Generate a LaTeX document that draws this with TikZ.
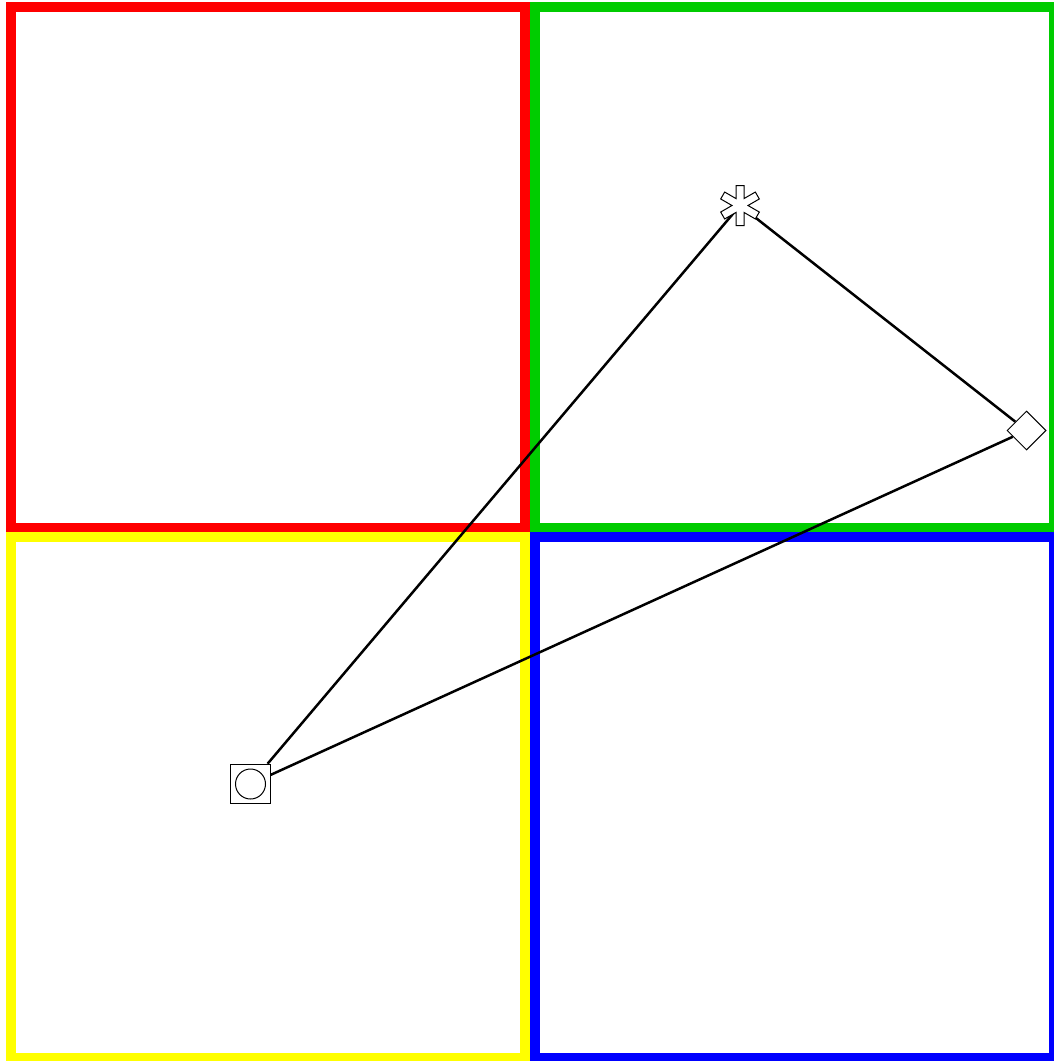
\documentclass[tikz,border=0pt]{standalone}
\usepackage{tikz}
\usetikzlibrary{shapes.geometric}
\definecolor{pnlred}{HTML}{FF0000}
\definecolor{pnlgreen}{HTML}{00CC00}
\definecolor{pnlyellow}{HTML}{FFFF00}
\definecolor{pnlblue}{HTML}{0000FF}
\begin{document}
\begin{tikzpicture}[
    x=1pt, y=-1pt,
    panel/.style={line width=10pt, line join=miter},
    link/.style={line width=2.5pt},
    markbox/.style={draw, fill=white, line width=1pt, inner sep=0pt}
]
    \useasboundingbox (0,0) rectangle (1054,1061);
    \clip (0,0) rectangle (1054,1061);

    % four panels
    \draw[panel, pnlred] (11,7) rectangle (525,527.5);
    \draw[panel, pnlgreen] (535,7) rectangle (1054,527.5);
    \draw[panel, pnlyellow] (11,537) rectangle (525,1058);
    \draw[panel, pnlblue] (535,537) rectangle (1054,1058);

    % markers
    \node[markbox, rectangle, minimum size=39.5pt] (sq) at (250.5,784) {};
    \node[markbox, circle, minimum size=30pt] (ring) at (sq.center) {};
    \node[markbox, diamond, minimum width=39pt, minimum height=39pt] (dia) at (1026.5,430.5) {};
    \coordinate (star) at (740,205.5);

    \draw[link] (star) -- (dia);
    \draw[link] (star) -- (sq);
    \draw[link] (dia) -- (sq);

    \draw[fill=white, line width=1pt, shift={(star)}] (78.7:20.4)
        \foreach \a in {90,150,...,390} { -- (\a-11.3:20.4) -- (\a+11.3:20.4) -- (\a+30:8) } -- cycle;
\end{tikzpicture}
\end{document}
